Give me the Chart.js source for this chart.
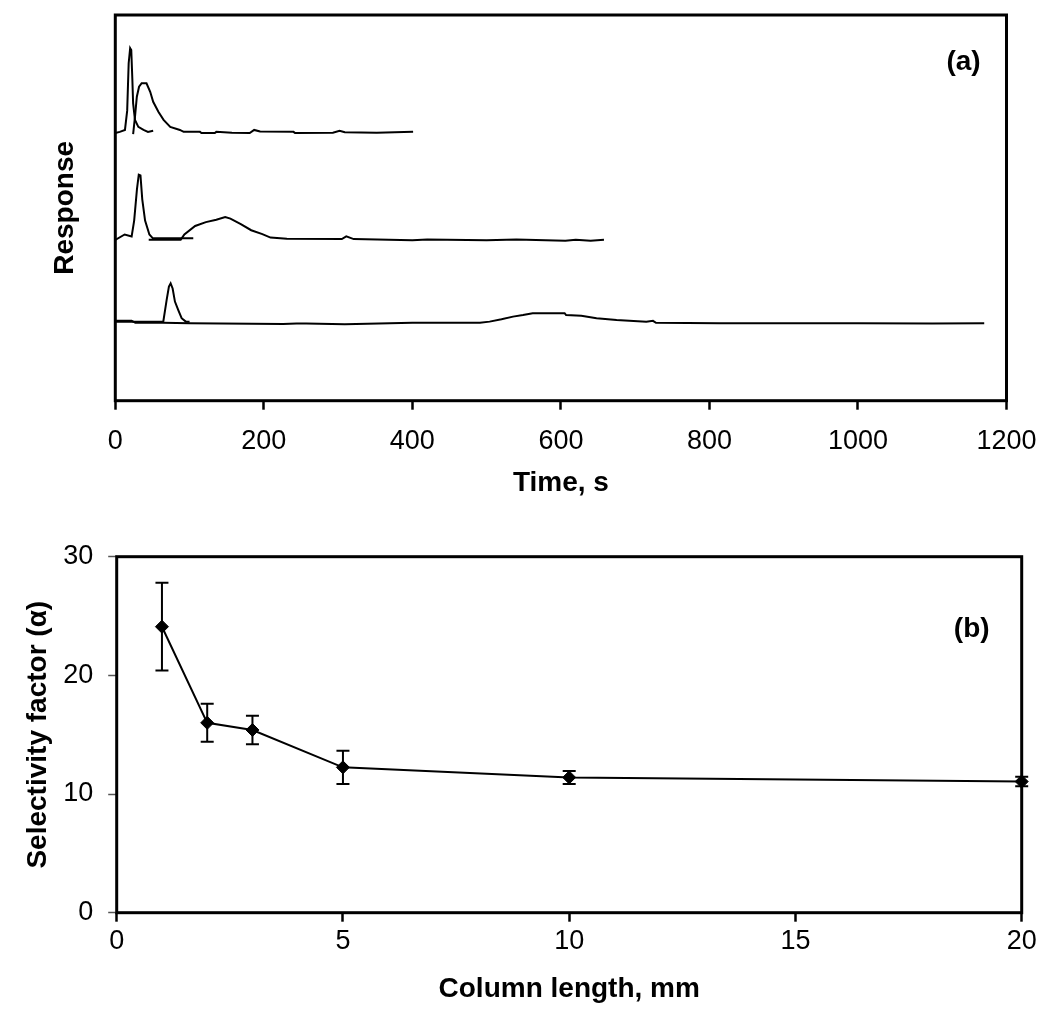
<!DOCTYPE html>
<html>
<head>
<meta charset="utf-8">
<script src="https://cdn.jsdelivr.net/npm/chart.js@4.4.1/dist/chart.umd.min.js"></script>
<style>
  body { margin: 0; background: #fff; }
  .panel { position: absolute; left: 0; }
</style>
</head>
<body>
<div class="panel" style="top:0"><canvas id="chartA" width="1040" height="520"></canvas></div>
<div class="panel" style="top:520px"><canvas id="chartB" width="1040" height="505"></canvas></div>
<script>
// (a) chromatograms, time in s, response in arbitrary units (traces offset)
// column 1 - unretained peak
const t1a = [0, 6, 13, 16, 18, 20, 21.5, 23, 24, 26.5, 31, 38, 44, 51];
const r1a = [69.4, 69.7, 70.2, 75.2, 87.5, 91.4, 90.9, 83.1, 77.1, 72.8, 71.0, 70.2, 69.7, 70.0];
// column 1 - retained peak
const t1b = [24, 26.5, 29, 32, 35.5, 42, 47, 51, 58, 65, 74, 87, 92, 114, 116, 134, 136, 157, 181, 187, 195, 240, 242, 293, 302, 309, 352, 401];
const r1b = [69.1, 73.6, 78.8, 81.4, 82.3, 82.3, 80.1, 77.5, 74.9, 72.8, 71.0, 70.2, 69.7, 69.7, 69.4, 69.4, 69.7, 69.5, 69.4, 70.2, 69.8, 69.7, 69.4, 69.5, 70.0, 69.6, 69.5, 69.7];
// column 2
const t2a = [0, 12.6, 22, 25.4, 29.2, 31.6, 33.9, 36.3, 40.1, 45.9, 50.6, 105];
const r2a = [41.7, 43.1, 42.6, 46.7, 54.9, 58.6, 58.4, 52.2, 46.7, 43.1, 42.1, 42.1];
const t2b = [45, 88, 93, 107.5, 122, 136, 148, 155, 169, 183, 198, 209, 231, 305, 311, 321, 400, 420, 500, 540, 606, 620, 640, 658];
const r2b = [41.7, 41.7, 43.1, 45.3, 46.3, 46.9, 47.6, 47.2, 45.8, 44.2, 43.2, 42.3, 42.0, 41.9, 42.6, 41.9, 41.6, 41.8, 41.6, 41.8, 41.5, 41.7, 41.5, 41.7];
// column 3
const t3a = [0, 64.6, 69.1, 72.2, 74.5, 77.2, 80.3, 84.8, 89.3, 95, 100];
const r3a = [20.5, 20.5, 26.1, 29.6, 30.4, 29.1, 25.7, 23.5, 21.4, 20.5, 20.5];
const t3b = [0, 22, 27, 64, 100, 226, 244, 257, 309, 400, 482, 491, 504, 520, 535.5, 549, 562, 605, 607, 627.5, 648, 675, 715, 724, 728, 813, 867, 1000, 1100, 1170];
const r3b = [20.7, 20.7, 20.2, 20.2, 20.1, 19.9, 20.0, 20.0, 19.8, 20.2, 20.2, 20.2, 20.5, 21.1, 21.8, 22.2, 22.7, 22.7, 22.2, 22.0, 21.4, 20.9, 20.5, 20.7, 20.2, 20.1, 20.1, 20.1, 20.0, 20.1];
const timeTicks = [0, 200, 400, 600, 800, 1000, 1200];

// (b) selectivity factor vs column length
const lengths = [1, 2, 3, 5, 10, 20];
const alpha = [24.1, 16.0, 15.4, 12.25, 11.4, 11.05];
const alphaErr = [3.7, 1.6, 1.2, 1.4, 0.55, 0.4];
const lengthTicks = [0, 5, 10, 15, 20];
const alphaTicks = [0, 10, 20, 30];

Chart.defaults.font.family = '"Liberation Sans", Arial, sans-serif';
Chart.defaults.color = '#000';

const pts = (xs, ys) => xs.map((x, i) => ({ x: x, y: ys[i] }));

// frame around the plot area
const framePlugin = {
  id: 'frame',
  beforeDatasetsDraw(chart) {
    const { ctx, chartArea: a } = chart;
    ctx.save();
    ctx.lineWidth = 3;
    ctx.strokeStyle = '#000';
    ctx.strokeRect(a.left, a.top, a.right - a.left, a.bottom - a.top);
    ctx.restore();
  }
};

// (a) / (b) label
const panelLabel = {
  id: 'panelLabel',
  afterDraw(chart, args, opts) {
    const { ctx, chartArea: a } = chart;
    ctx.save();
    ctx.font = 'bold 28px "Liberation Sans", Arial, sans-serif';
    ctx.fillStyle = '#000';
    ctx.textAlign = 'center';
    ctx.textBaseline = 'middle';
    ctx.fillText(opts.text, a.right - opts.dx, a.top + opts.dy);
    ctx.restore();
  }
};

// vertical error bars with caps
const errorBars = {
  id: 'errorBars',
  afterDatasetsDraw(chart) {
    const { ctx, scales } = chart;
    ctx.save();
    ctx.lineWidth = 2;
    ctx.strokeStyle = '#000';
    lengths.forEach((x, i) => {
      const px = scales.x.getPixelForValue(x);
      const top = scales.y.getPixelForValue(alpha[i] + alphaErr[i]);
      const bot = scales.y.getPixelForValue(alpha[i] - alphaErr[i]);
      ctx.beginPath();
      ctx.moveTo(px, top); ctx.lineTo(px, bot);
      ctx.moveTo(px - 6.5, top); ctx.lineTo(px + 6.5, top);
      ctx.moveTo(px - 6.5, bot); ctx.lineTo(px + 6.5, bot);
      ctx.stroke();
    });
    ctx.restore();
  }
};

const trace = (xs, ys) => ({
  data: pts(xs, ys),
  borderColor: '#000',
  borderWidth: 2,
  pointRadius: 0,
  tension: 0,
  fill: false
});

new Chart(document.getElementById('chartA'), {
  type: 'line',
  data: {
    datasets: [trace(t1a, r1a), trace(t1b, r1b), trace(t2a, r2a), trace(t2b, r2b), trace(t3a, r3a), trace(t3b, r3b)]
  },
  options: {
    responsive: false,
    animation: false,
    layout: { padding: { top: 15, right: 33.5, left: 0, bottom: 0 } },
    plugins: { legend: { display: false }, tooltip: { enabled: false }, panelLabel: { text: '(a)', dx: 43, dy: 47 } },
    scales: {
      x: {
        type: 'linear', min: 0, max: 1200,
        afterBuildTicks: s => { s.ticks = timeTicks.map(v => ({ value: v })); },
        afterFit: s => { s.height = 119.3; s.paddingRight = 0; s.paddingLeft = 0; },
        border: { display: false },
        grid: { drawOnChartArea: false, drawTicks: true, tickLength: 9, tickWidth: 2.5, tickColor: '#000' },
        ticks: { font: { size: 27 }, padding: 16, maxRotation: 0, callback: v => String(v) },
        title: { display: true, text: 'Time, s', font: { size: 28, weight: 'bold' }, padding: { top: 0, bottom: 20 } }
      },
      y: {
        type: 'linear', min: 0, max: 100,
        afterFit: s => { s.width = 115.3; },
        border: { display: false },
        grid: { display: false },
        ticks: { display: false },
        title: { display: true, text: 'Response', font: { size: 28, weight: 'bold' }, padding: { top: 48, bottom: 0 } }
      }
    }
  },
  plugins: [framePlugin, panelLabel]
});

new Chart(document.getElementById('chartB'), {
  type: 'line',
  data: {
    datasets: [{
      data: pts(lengths, alpha),
      borderColor: '#000',
      borderWidth: 2,
      pointStyle: 'rectRot',
      pointRadius: 6.5,
      pointBackgroundColor: '#000',
      pointBorderColor: '#000',
      pointBorderWidth: 1,
      tension: 0,
      clip: false
    }]
  },
  options: {
    responsive: false,
    animation: false,
    layout: { padding: { top: 36.7, right: 18.3, left: 0, bottom: 0 } },
    plugins: { legend: { display: false }, tooltip: { enabled: false }, panelLabel: { text: '(b)', dx: 50, dy: 73 } },
    scales: {
      x: {
        type: 'linear', min: 0, max: 20,
        afterBuildTicks: s => { s.ticks = lengthTicks.map(v => ({ value: v })); },
        afterFit: s => { s.height = 112.3; s.paddingRight = 0; s.paddingLeft = 0; },
        border: { display: false },
        grid: { drawOnChartArea: false, drawTicks: true, tickLength: 9, tickWidth: 2.5, tickColor: '#000' },
        ticks: { font: { size: 27 }, padding: 4, maxRotation: 0, callback: v => String(v) },
        title: { display: true, text: 'Column length, mm', font: { size: 28, weight: 'bold' }, padding: { top: 0, bottom: 19 } }
      },
      y: {
        type: 'linear', min: 0, max: 30,
        afterBuildTicks: s => { s.ticks = alphaTicks.map(v => ({ value: v })); },
        afterFit: s => { s.width = 116.7; },
        border: { display: false },
        grid: { drawOnChartArea: false, drawTicks: true, tickLength: 8.5, tickWidth: 1.5, tickColor: '#555' },
        ticks: { font: { size: 27 }, padding: 15 },
        title: { display: true, text: 'Selectivity factor (α)', font: { size: 28, weight: 'bold' }, padding: { top: 21, bottom: 0 } }
      }
    }
  },
  plugins: [framePlugin, panelLabel, errorBars]
});
</script>
</body>
</html>
